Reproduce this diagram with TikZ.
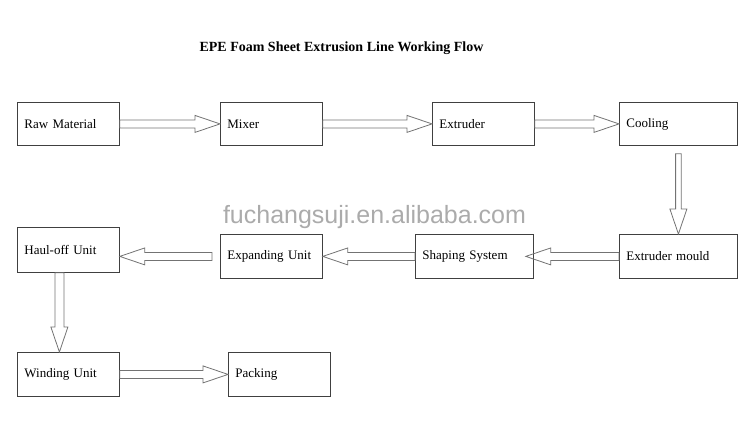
\documentclass[tikz,border=0pt]{standalone}
\usepackage{fontspec}
\setmainfont{Liberation Serif}
\newfontfamily\wmfont{Liberation Sans}
\usetikzlibrary{calc}

\tikzset{
  box/.style={draw=black!75, line width=0.8pt, rectangle, anchor=north west,
    align=left, inner xsep=7pt, text width=88pt, minimum height=43pt,
    font=\fontsize{13}{15}\selectfont, text=black},
  widebox/.style={box, text width=104pt},
  arrowline/.style={draw=black!55, line width=0.8pt, line join=miter}
}

% hollow block arrow: [shaft half width]{start}{tip}
\newcommand{\flowarrow}[3][4pt]{%
  \path let \p1=(#2), \p2=(#3),
      \n1={atan2(\y2-\y1,\x2-\x1)}, \n2={veclen(\x2-\x1,\y2-\y1)} in
    [arrowline, shift={(\p1)}, rotate=\n1]
    (0pt,#1) -- (\n2-25pt,#1) -- (\n2-25pt,8.5pt) -- (\n2,0pt)
    -- (\n2-25pt,-8.5pt) -- (\n2-25pt,-#1) -- (0pt,-#1) -- cycle;
}

\begin{document}
\begin{tikzpicture}[x=1pt,y=-1pt]
  \useasboundingbox (0,0) rectangle (750,437);

  \node (title) at (341.5,48) {\fontsize{14}{16}\selectfont\bfseries EPE Foam Sheet Extrusion Line Working Flow};
  \node[text=black!33] (mark) at (374.5,217) {\wmfont\fontsize{25}{28}\selectfont fuchangsuji.en.alibaba.com};

  % first row
  \node[box] (raw) at (17,102) {Raw Material};
  \node[box] (mixer) at (220,102) {Mixer};
  \node[box] (extruder) at (432,102) {Extruder};
  \node[widebox] (cooling) at (619,102) {Cooling};

  % second row
  \node[box, minimum height=45pt] (hauloff) at (17,227) {Haul-off Unit};
  \node[box, minimum height=44pt] (expand) at (220,234) {Expanding Unit};
  \node[widebox, minimum height=44pt] (shaping) at (415,234) {Shaping System};
  \node[widebox, minimum height=44pt] (mould) at (619,234) {Extruder mould};

  % third row
  \node[box, minimum height=44pt] (winding) at (17,352) {Winding Unit};
  \node[box, minimum height=44pt] (packing) at (228,352) {Packing};

  \begin{scope}
    \flowarrow{raw.east}{mixer.west}
    \flowarrow{mixer.east}{extruder.west}
    \flowarrow{extruder.east}{cooling.west}
    \flowarrow[2.8pt]{[yshift=-8pt]cooling.south}{mould.north}
    \flowarrow{mould.west}{[xshift=-8pt]shaping.east}
    \flowarrow{shaping.west}{expand.east}
    \flowarrow{[xshift=-8pt]expand.west}{hauloff.east |- expand.west}
    \flowarrow[4.5pt]{[xshift=-9pt]hauloff.south}{[xshift=-9pt]winding.north}
    \flowarrow{winding.east}{packing.west}
  \end{scope}
\end{tikzpicture}
\end{document}
